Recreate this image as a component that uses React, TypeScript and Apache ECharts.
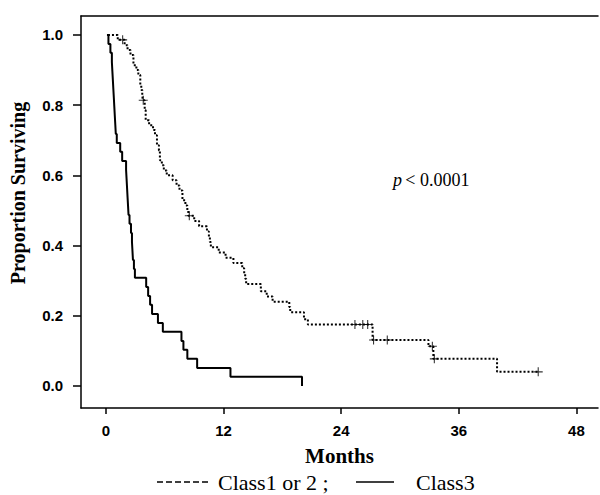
import React, { useEffect, useRef } from "react";
import * as echarts from "echarts";

// Kaplan-Meier curves: [months, proportion surviving]
const class12Curve: [number, number][] = [
  [0.2, 1.0], [1.2, 0.986], [1.9, 0.971], [2.2, 0.957], [2.5, 0.943], [2.8, 0.914],
  [3.1, 0.9], [3.3, 0.886], [3.5, 0.857], [3.6, 0.843], [3.7, 0.829], [3.75, 0.814],
  [3.95, 0.786], [4.05, 0.757], [4.4, 0.743], [4.8, 0.729], [5.0, 0.714], [5.2, 0.686],
  [5.4, 0.671], [5.5, 0.643], [5.7, 0.629], [5.9, 0.614], [6.2, 0.6], [6.8, 0.586],
  [7.2, 0.571], [7.5, 0.557], [7.8, 0.529], [8.1, 0.514], [8.3, 0.5], [8.4, 0.485],
  [9.0, 0.47], [9.5, 0.455], [10.3, 0.44], [10.5, 0.425], [10.6, 0.41], [10.7, 0.395],
  [11.5, 0.38], [12.2, 0.365], [13.0, 0.35], [13.9, 0.335], [14.1, 0.32], [14.2, 0.305],
  [14.3, 0.29], [15.8, 0.27], [16.4, 0.255], [17.0, 0.24], [18.7, 0.225], [18.8, 0.21],
  [20.2, 0.19], [20.6, 0.175], [27.2, 0.131], [32.9, 0.113], [33.4, 0.077],
  [39.9, 0.04], [44.1, 0.04],
];
const class12Censored: [number, number][] = [
  [1.7, 0.986], [3.8, 0.814], [8.5, 0.485], [25.4, 0.175], [26.2, 0.175], [26.7, 0.175],
  [27.3, 0.131], [28.7, 0.131], [33.3, 0.113], [33.5, 0.077], [44.1, 0.04],
];
const class3Curve: [number, number][] = [
  [0.1, 1.0], [0.25, 0.974], [0.45, 0.949], [0.6, 0.923], [0.65, 0.897], [0.7, 0.872],
  [0.75, 0.846], [0.8, 0.821], [0.85, 0.795], [0.9, 0.769], [0.95, 0.744], [1.0, 0.718],
  [1.1, 0.692], [1.45, 0.667], [1.65, 0.641], [2.05, 0.615], [2.1, 0.59], [2.15, 0.564],
  [2.2, 0.538], [2.25, 0.513], [2.3, 0.487], [2.4, 0.462], [2.55, 0.436], [2.65, 0.41],
  [2.7, 0.385], [2.75, 0.359], [2.85, 0.333], [2.95, 0.308], [4.1, 0.282], [4.3, 0.256],
  [4.5, 0.231], [4.7, 0.205], [5.3, 0.179], [5.8, 0.154], [7.7, 0.128], [7.9, 0.103],
  [8.3, 0.077], [9.3, 0.051], [12.7, 0.026], [20.0, 0.0],
];

const xTicks = [0, 12, 24, 36, 48];
const yTicks = [0, 0.2, 0.4, 0.6, 0.8, 1.0];
const seriesNames = ["Class1 or 2 ;", "Class3"];
const pValueText = "< 0.0001";

const X_MIN = -2.55;
const X_MAX = 50.2;
const Y_MIN = -0.063;
const Y_MAX = 1.054;

const SANS = "'Liberation Sans', Arial, sans-serif";
const SERIF = "'Liberation Serif', 'Times New Roman', serif";

export default function App() {
  const ref = useRef<HTMLDivElement>(null);
  useEffect(() => {
    if (!ref.current) return;
    const chart = echarts.init(ref.current, null, { renderer: "svg" });
    const plus = "path://M-0.12,-1H0.12V-0.12H1V0.12H0.12V1H-0.12V0.12H-1V-0.12H-0.12Z";
    const axisCommon = {
      type: "value" as const,
      splitLine: { show: false },
      axisLine: { show: true, onZero: false, lineStyle: { color: "#000", width: 1.5 } },
    };
    const legendY = 482;
    chart.setOption({
      animation: false,
      backgroundColor: "#fff",
      grid: { left: 81, top: 16, right: 2, bottom: 87, containLabel: false },
      xAxis: [
        {
          ...axisCommon,
          min: X_MIN,
          max: X_MAX,
          axisTick: { show: true, customValues: xTicks, length: 6, lineStyle: { color: "#000", width: 1.5 } },
          axisLabel: {
            customValues: xTicks,
            margin: 15,
            color: "#000",
            fontFamily: SANS,
            fontWeight: "bold",
            fontSize: 15,
          },
          name: "Months",
          nameLocation: "middle",
          nameGap: 37,
          nameTextStyle: { color: "#000", fontFamily: SERIF, fontWeight: "bold", fontSize: 21 },
        },
        {
          ...axisCommon,
          position: "top",
          min: X_MIN,
          max: X_MAX,
          axisTick: { show: false },
          axisLabel: { show: false },
        },
      ],
      yAxis: {
        ...axisCommon,
        min: Y_MIN,
        max: Y_MAX,
        axisTick: { show: true, customValues: yTicks, length: 8, lineStyle: { color: "#000", width: 1.5 } },
        axisLabel: {
          customValues: yTicks,
          margin: 18,
          color: "#000",
          fontFamily: SANS,
          fontWeight: "bold",
          fontSize: 15,
          formatter: (v: number) => v.toFixed(1),
        },
      },
      graphic: [
        {
          type: "text",
          rotation: Math.PI / 2,
          x: 18,
          y: 193,
          style: {
            text: "Proportion Surviving",
            fill: "#000",
            font: `bold 20px ${SERIF}`,
            textAlign: "center",
            textVerticalAlign: "middle",
          },
        },
        {
          type: "text",
          x: 393,
          y: 180,
          style: {
            text: `{p|p} {n|${pValueText}}`,
            textVerticalAlign: "middle",
            rich: {
              p: { fontFamily: SERIF, fontStyle: "italic", fontSize: 18, fill: "#000" },
              n: { fontFamily: SERIF, fontSize: 18, fill: "#000" },
            },
          },
        },
        // legend
        {
          type: "line",
          shape: { x1: 157, y1: legendY, x2: 208, y2: legendY },
          style: { stroke: "#000", lineWidth: 1.5, lineDash: [6, 3] },
        },
        {
          type: "text",
          x: 218,
          y: legendY,
          style: {
            text: seriesNames[0],
            fill: "#000",
            font: `22px ${SERIF}`,
            textVerticalAlign: "middle",
          },
        },
        {
          type: "line",
          shape: { x1: 356, y1: legendY, x2: 394, y2: legendY },
          style: { stroke: "#000", lineWidth: 1.5 },
        },
        {
          type: "text",
          x: 416,
          y: legendY,
          style: {
            text: seriesNames[1],
            fill: "#000",
            font: `22px ${SERIF}`,
            textVerticalAlign: "middle",
          },
        },
      ],
      series: [
        {
          name: seriesNames[0],
          type: "line",
          step: "end",
          symbol: "none",
          data: class12Curve,
          lineStyle: { color: "#000", width: 2, type: [2, 2] },
          itemStyle: { color: "#000" },
        },
        {
          name: seriesNames[1],
          type: "line",
          step: "end",
          symbol: "none",
          data: class3Curve,
          lineStyle: { color: "#000", width: 2, type: "solid" },
          itemStyle: { color: "#000" },
        },
        {
          name: "censored",
          type: "scatter",
          symbol: plus,
          symbolSize: 9,
          data: class12Censored,
          itemStyle: { color: "#000" },
        },
      ],
    });
    return () => chart.dispose();
  }, []);
  return <div ref={ref} style={{ width: 600, height: 495, position: "absolute", left: 0, top: 0 }} />;
}
